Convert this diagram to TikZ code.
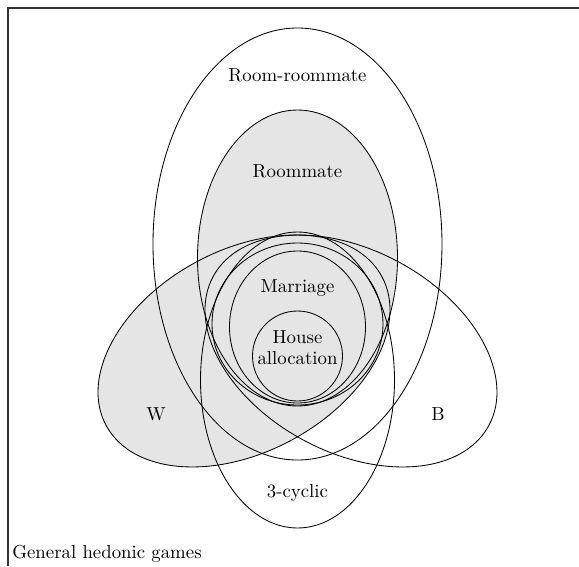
\documentclass[tikz,border=0pt]{standalone}
\begin{document}
\begin{tikzpicture}[x=0.532pt,y=-0.532pt,
  setline/.style={draw=black,line width=0.45pt},
  shade/.style={fill=black!10},
  lbl/.style={font=\normalsize,inner sep=0pt}]
\useasboundingbox (0,0) rectangle (579,566);
% shaded regions
\fill[shade] (297.5,258) ellipse [x radius=100,y radius=148];
\fill[shade,rotate around={28.4:(244,351)}] (244,351) ellipse [x radius=156.7,y radius=101];
% frame
\draw[line width=0.6pt,black!80] (8,566) -- (8,8) -- (579,8);
% outlines
\draw[setline] (297.5,244) ellipse [x radius=144.5,y radius=216];
\draw[setline] (297.5,258) ellipse [x radius=100,y radius=148];
\draw[setline,rotate around={28.4:(244,351)}] (244,351) ellipse [x radius=156.7,y radius=101];
\draw[setline,rotate around={-28.4:(351,351)}] (351,351) ellipse [x radius=156.7,y radius=101];
\draw[setline] (297.5,380) ellipse [x radius=97,y radius=148];
\draw[setline] (297.5,324) ellipse [x radius=85.5,y radius=81];
\draw[setline] (297.5,327) ellipse [x radius=68,y radius=76];
\draw[setline] (297.5,356) circle [radius=45];
% labels
\node[lbl] (rr) at (297.5,75) {Room-roommate};
\node[lbl] (rm) at (297.5,171) {Roommate};
\node[lbl] (ma) at (297.5,288) {Marriage};
\node[lbl,align=center] (ha) at (297.5,348) {House\\[-1pt]allocation};
\node[lbl] (w) at (156,414) {W};
\node[lbl] (b) at (438,414) {B};
\node[lbl] (cy) at (297.5,493) {3-cyclic};
\node[lbl,anchor=west] (gh) at (12,554) {General hedonic games};
\end{tikzpicture}
\end{document}
